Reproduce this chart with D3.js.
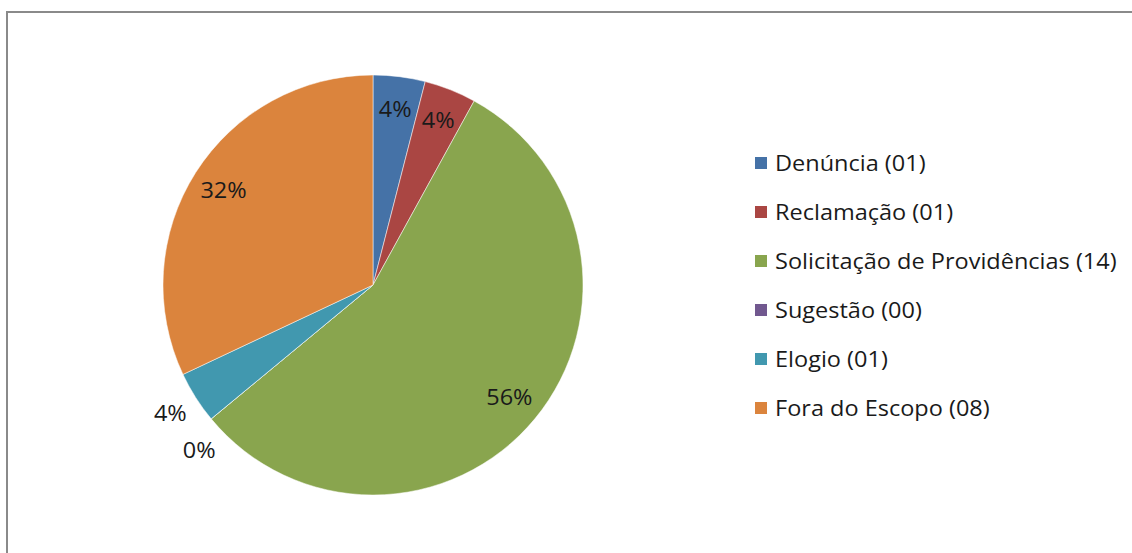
<!DOCTYPE html>
<html>
<head>
<meta charset="utf-8">
<script src="https://cdn.jsdelivr.net/npm/d3@7"></script>
<style>
  body { margin: 0; background: #fff; }
  svg text { font-family: "Open Sans", sans-serif; fill: #1a1a1a; }
</style>
</head>
<body>
<div id="chart"></div>
<script>
const categories = ["Denúncia", "Reclamação", "Solicitação de Providências", "Sugestão", "Elogio", "Fora do Escopo"];
const counts = [1, 1, 14, 0, 1, 8];
const countLabels = ["01", "01", "14", "00", "01", "08"];
const colors = ["#4572A7", "#AA4643", "#89A54E", "#71588F", "#4198AF", "#DB843D"];
// slices whose label Excel placed outside the pie
const outsideLabels = ["Sugestão", "Elogio"];

const width = 1132, height = 553;
const cx = 373, cy = 285, radius = 210;
const fontSize = 21, stretch = 1.12; // source image text is a bit wider than tall

const svg = d3.select("#chart").append("svg")
    .attr("width", width)
    .attr("height", height);

// chart frame (only top and left edges visible)
svg.append("path")
    .attr("d", `M7,${height} V12 H${width}`)
    .attr("fill", "none")
    .attr("stroke", "#8a8a8a")
    .attr("stroke-width", 2);

const data = categories.map((c, i) => ({ name: c, value: counts[i], label: countLabels[i], color: colors[i] }));
const total = d3.sum(counts);

const pie = d3.pie().value(d => d.value).sort(null);
const arcs = pie(data);

const arc = d3.arc().innerRadius(0).outerRadius(radius);
const inLabel = d3.arc().innerRadius(177).outerRadius(177);
const outLabel = d3.arc().innerRadius(240).outerRadius(240);

const g = svg.append("g").attr("transform", `translate(${cx},${cy})`);

g.selectAll("path.slice")
    .data(arcs)
    .enter().append("path")
    .attr("class", "slice")
    .attr("d", arc)
    .attr("fill", d => d.data.color)
    .attr("stroke", "#fff")
    .attr("stroke-width", 0.5);

g.selectAll("text.pct")
    .data(arcs)
    .enter().append("text")
    .attr("class", "pct")
    .attr("transform", d => {
        let p;
        if (outsideLabels.includes(d.data.name)) {
            // nudge the empty slice label down so it does not collide
            const shift = d.value === 0 ? -0.07 : 0;
            p = outLabel.centroid({ startAngle: d.startAngle + shift, endAngle: d.endAngle + shift });
        } else {
            p = inLabel.centroid(d);
        }
        return `translate(${p}) scale(${stretch},1)`;
    })
    .attr("text-anchor", "middle")
    .attr("dy", "0.35em")
    .style("font-size", fontSize + "px")
    .text(d => Math.round(d.value / total * 100) + "%");

const legend = svg.append("g").attr("transform", "translate(755,164)");
const rows = legend.selectAll("g")
    .data(data)
    .enter().append("g")
    .attr("transform", (d, i) => `translate(0,${i * 49})`);

rows.append("rect")
    .attr("x", 0)
    .attr("y", -7)
    .attr("width", 12)
    .attr("height", 12)
    .attr("fill", d => d.color);

rows.append("text")
    .attr("transform", `translate(20,0) scale(${stretch},1)`)
    .attr("dy", "0.35em")
    .style("font-size", fontSize + "px")
    .text(d => `${d.name} (${d.label})`);
</script>
</body>
</html>
